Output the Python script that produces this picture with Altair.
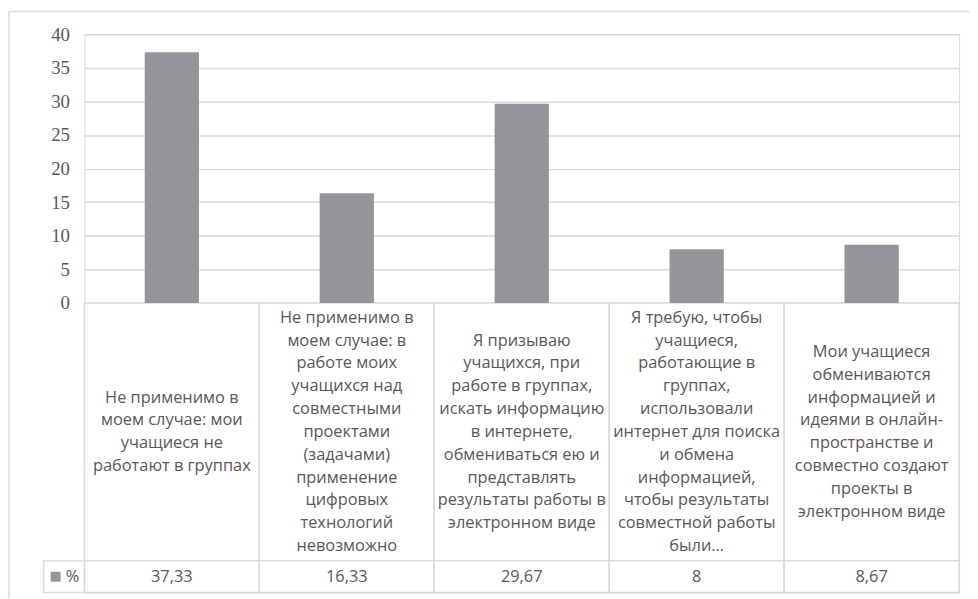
import altair as alt
import pandas as pd

# ---- data ----
category_lines = [
    ["Не применимо в", "моем случае: мои", "учащиеся не", "работают в группах"],
    ["Не применимо в", "моем случае: в", "работе моих", "учащихся над", "совместными",
     "проектами", "(задачами)", "применение", "цифровых", "технологий", "невозможно"],
    ["Я призываю", "учащихся, при", "работе в группах,", "искать информацию",
     "в интернете,", "обмениваться ею и", "представлять", "результаты работы в",
     "электронном виде"],
    ["Я требую, чтобы", "учащиеся,", "работающие в", "группах,", "использовали",
     "интернет для поиска", "и обмена", "информацией,", "чтобы результаты",
     "совместной работы", "были…"],
    ["Мои учащиеся", "обмениваются", "информацией и", "идеями в онлайн-",
     "пространстве и", "совместно создают", "проекты в", "электронном виде"],
]
values = [37.33, 16.33, 29.67, 8, 8.67]
value_labels = ["37,33", "16,33", "29,67", "8", "8,67"]
y_ticks = [0, 5, 10, 15, 20, 25, 30, 35, 40]
series_name = "%"

# ---- layout ----
W = 882
H_BARS = 271
ROW1 = 260
ROW2 = 32
H = H_BARS + ROW1 + ROW2
LH = 23

BAR = "#939598"
GRID = "#d9d9d9"
TXT = "#595959"
FONT = "Open Sans"
FS = 16.5

df = pd.DataFrame({
    "k": list(range(len(values))),
    "value": values,
    "label": ["\n".join(l) for l in category_lines],
    "vlabel": value_labels,
})
leg = pd.DataFrame({"name": [series_name]})

base = alt.Chart(df)

# table cells (full-width bands)
tx = alt.X("k:O", scale=alt.Scale(paddingInner=0, paddingOuter=0), axis=None)
cells1 = base.mark_rect(fill="white", stroke=GRID, strokeWidth=1.5).encode(
    x=tx, y=alt.value(H_BARS), y2=alt.value(H_BARS + ROW1))
cells2 = base.mark_rect(fill="white", stroke=GRID, strokeWidth=1.5).encode(
    x=tx, y=alt.value(H_BARS + ROW1), y2=alt.value(H))
table = alt.layer(cells1, cells2)

# bars + texts (band centres coincide with the cell centres)
bx = alt.X("k:O", scale=alt.Scale(paddingInner=0.69, paddingOuter=0.345), axis=None)
bars = base.mark_bar(color=BAR).encode(
    x=bx,
    y=alt.Y("value:Q",
            scale=alt.Scale(domain=[0, 40], range=[H_BARS, 0], nice=False),
            axis=alt.Axis(values=y_ticks, title=None, domain=False, ticks=False,
                          labelFont="Liberation Serif", labelFontSize=19,
                          labelColor=TXT, labelPadding=15,
                          gridColor=GRID, gridWidth=1.5)),
)

label_layers = []
for i, lines in enumerate(category_lines):
    y_first = H_BARS + ROW1 / 2 - (len(lines) - 1) * LH / 2
    label_layers.append(
        base.transform_filter(alt.datum.k == i).mark_text(
            lineBreak="\n", baseline="middle", align="center",
            font=FONT, fontSize=FS, lineHeight=LH, color=TXT,
        ).encode(x=bx, y=alt.value(y_first), text="label:N")
    )

vlabels = base.mark_text(baseline="middle", align="center",
                         font=FONT, fontSize=FS, color=TXT).encode(
    x=bx, y=alt.value(H_BARS + ROW1 + ROW2 / 2), text="vlabel:N")

lb = alt.Chart(leg)
leg_cell = lb.mark_rect(fill="white", stroke=GRID, strokeWidth=1.5).encode(
    x=alt.value(-41), x2=alt.value(0),
    y=alt.value(H_BARS + ROW1), y2=alt.value(H))
leg_sq = lb.mark_rect(fill=BAR).encode(
    x=alt.value(-34), x2=alt.value(-24),
    y=alt.value(H_BARS + ROW1 + 11), y2=alt.value(H_BARS + ROW1 + 21))
leg_txt = lb.mark_text(baseline="middle", align="center", font=FONT,
                       fontSize=FS, color=TXT).encode(
    x=alt.value(-12), y=alt.value(H_BARS + ROW1 + ROW2 / 2), text="name:N")

border_top = lb.mark_rule(color=GRID, strokeWidth=1.5).encode(
    x=alt.value(-76), x2=alt.value(W + 10), y=alt.value(-23))
border_left = lb.mark_rule(color=GRID, strokeWidth=1.5).encode(
    x=alt.value(-76), y=alt.value(-23), y2=alt.value(H + 6))

main = alt.layer(bars, *label_layers, vlabels,
                 leg_cell, leg_sq, leg_txt, border_top, border_left)

chart = alt.layer(table, main).resolve_scale(x="independent").properties(
    width=W, height=H, padding={"left": 0, "top": 0, "right": 0, "bottom": 0}
).configure_view(stroke=None).configure(background="white")

chart.save("out.html", embed_options={"renderer": "svg", "actions": False})
